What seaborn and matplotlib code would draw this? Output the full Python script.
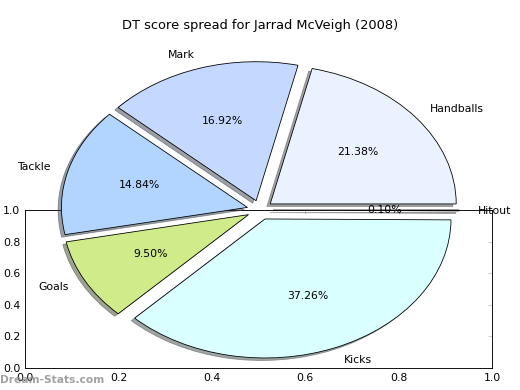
import matplotlib
matplotlib.use('Agg')
import matplotlib.pyplot as plt
import seaborn as sns

# DT score breakdown, counter-clockwise from 0 degrees
categories = ['Handballs', 'Mark', 'Tackle', 'Goals', 'Kicks', 'Hitout']
shares = [21.38, 16.92, 14.84, 9.50, 37.26, 0.10]
slice_colors = ['#EBF2FF', '#C5D9FF', '#B1D5FF', '#CFEB8A', '#D9FFFF', '#E6E6E6']
ticks = [0.0, 0.2, 0.4, 0.6, 0.8, 1.0]
tick_labels = ['0.0', '0.2', '0.4', '0.6', '0.8', '1.0']

sns.set_style('white')
plt.rcParams['font.family'] = ['DejaVu Sans']
plt.rcParams['font.size'] = 12
plt.rcParams['text.color'] = 'black'
plt.rcParams['xtick.labelcolor'] = 'black'
plt.rcParams['ytick.labelcolor'] = 'black'

fig = plt.figure(figsize=(8, 6), dpi=65)

# leftover frame axes (sits under the pie)
frame = fig.add_axes([25 / 520, 22 / 390, 467 / 520, 158 / 390], zorder=1)
frame.set_xlim(0, 1)
frame.set_ylim(0, 1)
frame.set_xticks(ticks)
frame.set_yticks(ticks)
frame.set_xticklabels(tick_labels)
frame.set_yticklabels(tick_labels)
frame.tick_params(direction='in', length=4, color='#bbbbbb', labelsize=12,
                  labelcolor='black', top=True, right=True, pad=5)
for sp in frame.spines.values():
    sp.set_color('black')
    sp.set_linewidth(1.0)

# pie axes over the whole figure, stretched into an ellipse
ax = fig.add_axes([0, 0, 1, 1], zorder=2)
ax.patch.set_alpha(0)
wedges, texts, autotexts = ax.pie(
    shares, labels=categories, colors=slice_colors,
    explode=[0.07] * len(shares), autopct='%.2f%%', shadow=True,
    startangle=0, labeldistance=1.1, pctdistance=0.6,
    wedgeprops={'edgecolor': 'black', 'linewidth': 0.9},
    textprops={'fontsize': 12, 'color': 'black'})
ax.set_aspect('auto')
ax.set_xlim(-260 / 186, 260 / 186)
ax.set_ylim(-180 / 139, 210 / 139)
ax.axis('off')

fig.text(0.5, 1 - 25 / 390, 'DT score spread for Jarrad McVeigh (2008)',
         ha='center', va='center', fontsize=14.4, color='black')
fig.text(0.0, 1 - 380 / 390, 'Dream-Stats.com', ha='left', va='center',
         fontsize=11.8, fontweight='bold', color='#8a8a8a', alpha=0.8, zorder=5)

fig.savefig('out.png', dpi=65)
